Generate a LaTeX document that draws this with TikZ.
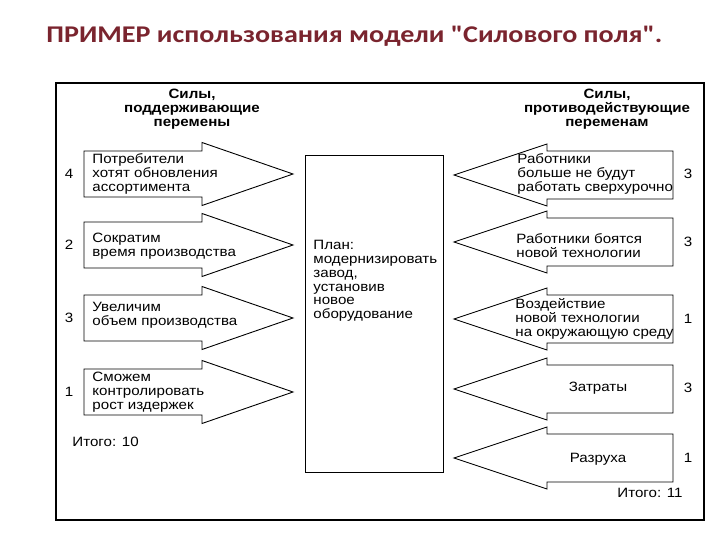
\documentclass[tikz,border=0pt]{standalone}
\usepackage{fontspec}
\setmainfont{Liberation Sans}[FakeStretch=1.12]
\newfontfamily\ttlfont{Carlito}[FakeStretch=1.17]
\usetikzlibrary{positioning}
\definecolor{ttlred}{RGB}{122,36,46}

% arrows pushing towards the plan (left) and against it (right)
\newcommand{\pusharr}[1]{\draw (84,#1-23) -- (202,#1-23) -- (202,#1-31.5) -- (293,#1)
  -- (202,#1+31.5) -- (202,#1+23) -- (84,#1+23) -- cycle;}
\newcommand{\pullarr}[1]{\draw (673,#1-24) -- (547,#1-24) -- (547,#1-31) -- (454,#1)
  -- (547,#1+31) -- (547,#1+24) -- (673,#1+24) -- cycle;}

\begin{document}
\begin{tikzpicture}[x=1pt, y=-1pt, line width=0.9pt,
  txt/.style={align=left, anchor=west, inner sep=0pt, font=\fontsize{13.5}{13.8}\selectfont},
  hd/.style={align=center, inner sep=0pt, font=\bfseries\fontsize{13.5}{14}\selectfont},
  num/.style={inner sep=0pt, font=\fontsize{13.5}{14}\selectfont}]
\useasboundingbox (0,0) rectangle (720,540);
\node[anchor=west, inner sep=0pt, text=ttlred, font=\ttlfont\bfseries\fontsize{24}{28}\selectfont]
  (title) at (46,36) {ПРИМЕР использования модели "Силового поля".};
\draw[line width=1.1pt] (56,83) rectangle (704,520);
\node[hd] (hpro) at (192,109) {Силы,\\ поддерживающие\\ перемены};
\node[hd] (hcon) at (607,109) {Силы,\\ противодействующие\\ переменам};
\node[draw, inner sep=0pt, minimum width=138pt, minimum height=317pt] (plan) at (374,313.5) {};
\node[txt] (plantxt) at (313,281) {План:\\ модернизировать\\ завод,\\ установив\\ новое\\ оборудование};

% forces for the change
\pusharr{174}
\pusharr{245}
\pusharr{318}
\pusharr{392}
\node[txt] (p1) at (92,174) {Потребители\\ хотят обновления\\ ассортимента};
\node[txt] (p2) at (92,246) {Сократим\\ время производства};
\node[txt] (p3) at (92,315) {Увеличим\\ объем производства};
\node[txt] (p4) at (92,392) {Сможем\\ контролировать\\ рост издержек};
\node[num] (np1) at (69,174) {4};
\node[num] (np2) at (69,245) {2};
\node[num] (np3) at (69,318) {3};
\node[num] (np4) at (69,392) {1};
\node[txt] (sumpro) at (72,442) {Итого: 10};

% forces against the change
\pullarr{175}
\pullarr{242}
\pullarr{319}
\pullarr{389}
\pullarr{458}
\node[txt] (c1) at (517,174) {Работники\\ больше не будут\\ работать сверхурочно};
\node[txt] (c2) at (516,246) {Работники боятся\\ новой технологии};
\node[txt] (c3) at (515,319) {Воздействие\\ новой технологии\\ на окружающую среду};
\node[num] (c4) at (598,388) {Затраты};
\node[num] (c5) at (598,459) {Разруха};
\node[num] (nc1) at (688,174) {3};
\node[num] (nc2) at (688,242) {3};
\node[num] (nc3) at (688,319) {1};
\node[num] (nc4) at (688,388) {3};
\node[num] (nc5) at (688,458) {1};
\node[txt, anchor=east] (sumcon) at (683,493) {Итого: 11};
\end{tikzpicture}
\end{document}
